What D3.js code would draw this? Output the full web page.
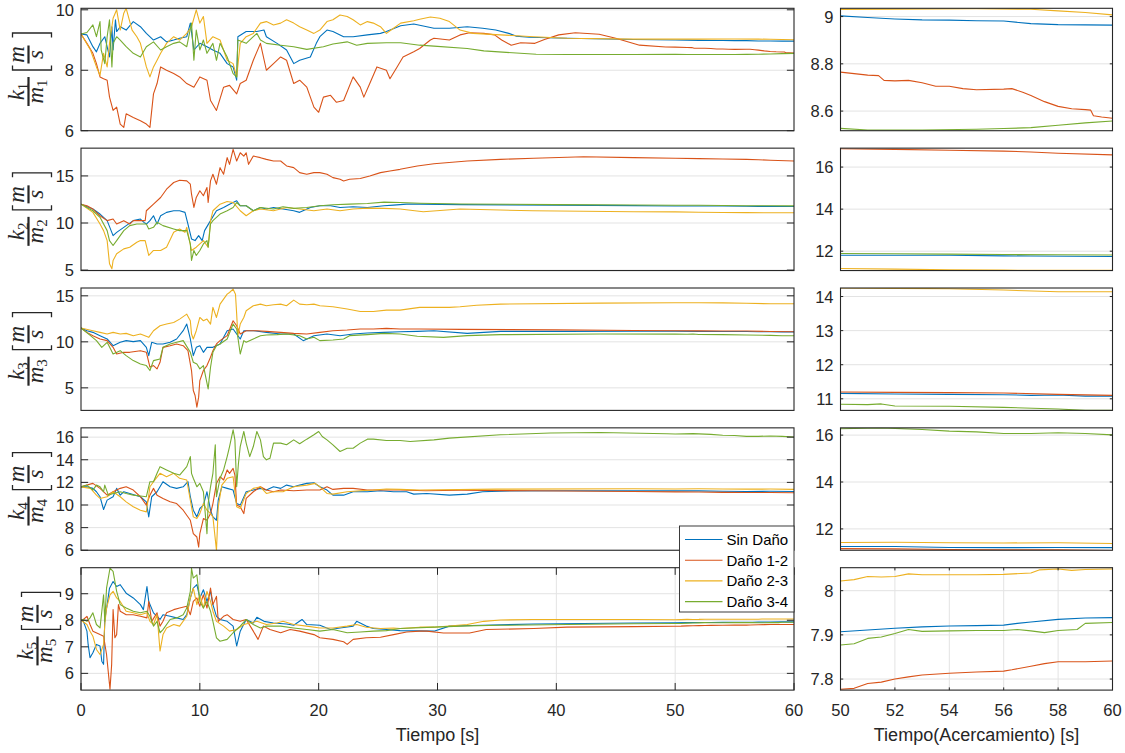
<!DOCTYPE html>
<html>
<head>
<meta charset="utf-8">
<script src="https://cdn.jsdelivr.net/npm/d3@7"></script>
<style>
  html, body { margin: 0; padding: 0; background: #fff; }
  svg { display: block; }
</style>
</head>
<body>
<script>
// ---- series metadata ----
const seriesNames = ["Sin Daño", "Daño 1-2", "Daño 2-3", "Daño 3-4"];
const seriesColors = ["#0072BD", "#D95319", "#EDB120", "#77AC30"];

// ---- k1/m1 : [time s, value] ----
const k1_sinDano = [[0,9.2],[0.5,9.17],[1.0,8.78],[1.3,8.61],[1.6,8.89],[2.0,9.11],[2.4,8.44],[2.6,9.44],[2.7,8.67],[2.9,9.67],[3.0,9.28],[3.3,9.44],[3.8,9.33],[4.4,9.61],[5.0,9.44],[5.5,9.22],[6.1,9.0],[6.7,9.11],[7.2,8.94],[7.8,9.0],[8.3,9.06],[8.9,9.11],[9.2,9.56],[9.5,8.67],[10.0,8.89],[10.6,8.78],[11.1,8.67],[11.7,8.56],[12.3,8.22],[12.8,8.11],[13.1,7.67],[13.2,9.11],[13.9,9.28],[14.8,9.28],[15.4,9.33],[15.6,9.11],[16.5,8.89],[17.3,8.67],[17.9,8.22],[18.4,8.33],[19.3,8.44],[19.8,8.89],[20.1,9.11],[20.7,9.33],[21.2,9.28],[22.1,9.11],[22.9,9.11],[24.1,9.17],[25.2,9.22],[25.7,9.28],[26.9,9.47],[28.0,9.53],[29.7,9.39],[31.0,9.39],[32.5,9.44],[33.8,9.39],[34.9,9.33],[36.0,9.22],[36.6,9.13],[37.7,9.09],[40.9,9.06],[46.5,9.02],[50,9.003],[51,8.996],[52,8.99],[53,8.986],[54,8.985],[55,8.982],[56,8.981],[57,8.97],[58,8.966],[59,8.965],[60,8.964]];
const k1_dano12 = [[0,9.2],[0.5,8.89],[1.0,8.56],[1.3,8.22],[1.6,7.78],[1.9,7.72],[2.2,7.67],[2.4,7.11],[2.7,6.67],[3.0,6.78],[3.3,6.22],[3.6,6.11],[3.8,6.56],[4.4,6.44],[5.0,6.33],[5.5,6.22],[5.8,6.11],[6.1,7.22],[6.4,7.56],[6.7,8.11],[7.2,8.0],[7.8,7.89],[8.3,7.78],[8.9,7.56],[9.5,7.44],[10.0,7.78],[10.6,7.67],[10.9,7.0],[11.4,6.67],[12.0,7.44],[12.5,7.5],[13.1,7.22],[13.4,7.56],[13.9,7.67],[14.5,8.33],[15.1,8.89],[15.6,8.0],[16.2,8.22],[16.8,8.44],[17.3,8.33],[17.9,7.56],[18.4,7.67],[19.0,7.44],[19.6,6.78],[20.0,6.61],[20.4,7.11],[21.0,7.17],[21.5,6.94],[22.1,7.0],[22.9,7.78],[23.5,7.44],[23.8,7.11],[24.3,7.56],[24.9,8.11],[25.7,8.0],[26.0,7.72],[26.6,8.11],[27.1,8.44],[28.0,8.61],[28.5,8.72],[29.4,9.0],[29.7,9.06],[31.0,9.0],[31.9,9.17],[32.7,9.24],[33.9,9.22],[34.8,9.17],[35.4,9.0],[36.2,8.83],[37.0,8.91],[38.2,8.89],[39.0,9.02],[40.2,9.17],[41.6,9.24],[43.6,9.19],[45.0,9.06],[47.0,8.83],[49.2,8.77],[50,8.765],[51,8.752],[51.4,8.75],[51.6,8.73],[52,8.728],[52.5,8.73],[53,8.72],[53.5,8.705],[54,8.705],[54.5,8.695],[55,8.69],[56,8.693],[56.3,8.695],[56.7,8.68],[57,8.666],[57.5,8.64],[58,8.62],[58.5,8.61],[59,8.606],[59.2,8.604],[59.3,8.58],[59.6,8.575],[60,8.57]];
const k1_dano23 = [[0,9.2],[0.8,8.67],[1.3,8.11],[1.6,7.83],[1.9,8.56],[2.2,8.11],[2.4,8.89],[2.7,9.72],[3.0,10.0],[3.3,9.33],[3.6,9.89],[3.8,10.05],[4.3,9.33],[4.7,9.11],[5.0,8.89],[5.5,8.11],[5.8,7.78],[6.1,8.11],[6.4,8.33],[6.7,8.56],[7.2,8.89],[7.8,9.11],[8.3,9.0],[8.9,9.22],[9.3,9.44],[9.7,10.0],[10.0,9.56],[10.3,9.78],[10.6,8.89],[11.1,9.11],[11.7,9.0],[12.3,8.33],[12.8,8.22],[13.1,7.78],[13.4,8.89],[13.9,9.11],[14.5,9.22],[15.1,9.56],[15.6,9.61],[16.2,9.5],[16.8,9.56],[17.3,9.67],[17.9,9.56],[18.4,9.44],[19.0,9.33],[19.6,9.22],[20.1,9.33],[20.7,9.61],[21.2,9.67],[21.8,9.83],[22.4,9.78],[22.9,9.67],[23.5,9.5],[24.1,9.61],[24.6,9.56],[25.2,9.44],[25.7,9.22],[26.3,9.39],[26.9,9.56],[28.0,9.64],[28.5,9.69],[29.4,9.76],[30.2,9.72],[31.0,9.61],[31.9,9.33],[33.0,9.22],[35.3,9.17],[38.1,9.11],[40.9,9.06],[46.5,9.03],[50,9.03],[52,9.031],[55,9.033],[57,9.031],[58,9.024],[59,9.017],[60,9.007]];
const k1_dano34 = [[0,9.2],[0.5,9.25],[1.0,9.5],[1.3,9.11],[1.6,9.61],[1.7,8.67],[2.0,8.22],[2.2,9.11],[2.4,9.67],[2.6,8.11],[2.7,8.89],[3.0,9.11],[3.3,9.0],[3.8,8.78],[4.4,8.56],[5.0,8.44],[5.5,8.78],[6.1,8.94],[6.7,8.67],[7.2,8.78],[7.8,8.89],[8.3,8.94],[8.9,8.78],[9.3,9.56],[9.5,8.33],[9.7,9.33],[10.0,8.67],[10.3,9.0],[10.6,8.56],[11.1,8.89],[11.4,8.33],[11.7,8.89],[12.3,8.44],[12.8,7.89],[13.1,7.78],[13.2,9.0],[13.9,8.89],[14.5,9.11],[14.8,9.22],[15.1,9.0],[15.6,8.89],[16.8,8.83],[17.9,8.78],[19.0,8.69],[20.4,8.78],[21.2,8.87],[22.4,8.94],[23.2,8.83],[24.1,8.89],[25.7,8.91],[26.9,8.91],[28.5,8.83],[29.7,8.8],[32.5,8.72],[33.9,8.64],[36.3,8.58],[38.3,8.53],[40.9,8.52],[46.5,8.52],[50,8.527],[51,8.52],[53,8.52],[55,8.523],[56,8.526],[57,8.53],[58,8.54],[59,8.55],[60,8.558]];

// ---- k2/m2 ----
const k2_sinDano = [[0,12.0],[1.0,11.48],[1.6,10.95],[2.2,10.25],[2.7,8.66],[3.0,9.0],[3.6,9.54],[4.4,10.25],[5.0,10.42],[5.3,10.07],[5.5,9.89],[5.8,10.25],[6.1,10.77],[6.4,9.89],[6.7,10.77],[7.2,11.13],[7.8,11.3],[8.3,11.3],[8.75,11.13],[9.0,9.89],[9.3,8.31],[9.6,8.13],[9.9,8.66],[10.2,8.13],[10.4,9.19],[10.9,10.25],[11.4,11.3],[12.0,11.65],[12.5,12.0],[13.1,12.36],[13.4,11.83],[13.9,11.83],[14.5,11.3],[15.1,11.65],[15.6,11.48],[16.2,11.65],[17.0,11.48],[17.9,11.3],[18.4,11.13],[19.3,11.65],[20.1,11.83],[21.0,11.83],[21.8,11.65],[22.9,11.72],[24.1,11.65],[25.5,11.83],[26.3,11.9],[27.4,12.0],[28.5,12.0],[32,11.95],[40,11.9],[46.5,11.85],[50,11.81],[54,11.81],[56,11.78],[57,11.77],[60,11.75]];
const k2_dano12 = [[0,12.0],[0.5,11.83],[1.0,11.48],[1.6,10.77],[2.2,10.25],[2.7,10.42],[3.0,9.89],[3.6,10.25],[4.1,9.89],[4.4,10.25],[5.0,10.25],[5.4,10.25],[5.5,11.3],[6.1,12.0],[6.7,12.71],[7.2,13.59],[7.8,14.3],[8.3,14.54],[8.9,14.47],[9.2,14.12],[9.3,13.06],[9.5,11.65],[9.7,12.71],[10.0,13.42],[10.3,12.89],[10.6,13.77],[10.7,12.18],[10.9,14.47],[11.1,15.18],[11.4,14.12],[11.7,15.88],[12.0,15.18],[12.3,16.94],[12.5,16.23],[12.8,17.82],[13.1,16.58],[13.4,17.46],[13.7,17.11],[13.9,17.46],[14.1,16.23],[14.5,17.11],[15.1,16.94],[15.6,16.76],[16.2,16.58],[16.8,16.58],[17.3,16.06],[17.9,15.88],[18.4,15.35],[19.0,15.18],[19.6,15.35],[20.1,15.35],[20.7,15.18],[21.2,14.82],[21.8,14.65],[22.1,14.47],[22.6,14.65],[23.5,14.72],[24.3,15.0],[25.2,15.35],[26.0,15.53],[26.85,15.7],[28.3,16.06],[29.7,16.3],[32.5,16.58],[35.3,16.76],[38.1,16.87],[42.3,17.04],[46.5,16.94],[50,16.87],[52,16.84],[54,16.8],[56,16.76],[57,16.72],[58,16.66],[60,16.58]];
const k2_dano23 = [[0,12.0],[1.0,11.13],[1.6,9.89],[1.9,9.19],[2.2,8.13],[2.4,5.67],[2.6,5.14],[2.7,6.02],[3.0,6.73],[3.6,7.25],[4.1,7.43],[4.7,7.96],[5.0,8.13],[5.4,8.13],[5.7,6.55],[6.1,7.08],[6.7,7.08],[7.2,7.43],[7.8,9.01],[8.3,9.37],[8.75,9.01],[8.9,9.54],[9.3,7.08],[9.7,7.43],[10.3,8.13],[10.7,7.43],[10.9,10.25],[11.1,11.3],[11.7,12.0],[12.3,12.29],[12.8,12.18],[13.4,11.3],[13.9,10.77],[14.5,11.3],[15.1,11.48],[16.2,11.3],[17.3,11.65],[18.4,11.48],[19.6,11.3],[20.7,11.48],[21.8,11.3],[22.9,11.48],[24.1,11.58],[25.5,11.55],[26.85,11.48],[28.8,11.2],[31.9,11.48],[38,11.3],[46.5,11.2],[50,11.18],[52,11.15],[54,11.12],[56,11.1],[58,11.09],[60,11.09]];
const k2_dano34 = [[0,12.0],[1.0,11.3],[1.6,10.6],[2.2,9.19],[2.4,8.13],[2.7,7.61],[3.0,8.13],[3.6,9.19],[4.1,9.72],[4.7,9.89],[5.5,9.89],[5.7,9.37],[6.1,9.54],[6.4,10.07],[6.9,9.72],[7.8,9.37],[8.3,9.19],[8.9,9.19],[9.2,7.78],[9.3,6.02],[9.5,7.08],[9.7,6.55],[10.0,7.08],[10.3,7.78],[10.6,8.13],[10.7,7.43],[10.9,9.89],[11.1,10.25],[11.7,10.95],[12.3,11.3],[12.8,11.65],[13.1,12.18],[13.4,11.83],[13.9,11.83],[14.5,11.3],[15.1,11.65],[16.2,11.48],[17.0,11.72],[17.9,11.55],[19.0,11.65],[20.1,11.83],[21.2,11.94],[22.6,12.0],[24.1,12.07],[25.5,12.22],[26.85,12.18],[28.5,12.1],[32,12.02],[40,11.95],[46.5,11.92],[50,11.89],[52,11.88],[54,11.86],[56,11.84],[58,11.83],[60,11.82]];

// ---- k3/m3 ----
const k3_sinDano = [[0,11.5],[0.5,11.21],[1.0,11.03],[1.6,10.67],[2.2,10.31],[2.7,9.58],[3.3,9.95],[3.8,10.13],[4.4,10.02],[5.0,10.13],[5.5,9.4],[5.7,8.5],[5.95,9.95],[6.4,9.77],[6.9,9.77],[7.5,9.95],[8.05,10.31],[8.6,11.21],[8.9,11.93],[9.2,10.31],[9.45,8.5],[9.7,9.4],[10.0,9.58],[10.3,8.86],[10.6,9.4],[11.1,9.4],[11.7,9.77],[12.3,11.21],[12.8,11.39],[13.1,10.85],[13.4,10.31],[13.7,11.21],[14.5,11.21],[15.6,11.03],[16.8,10.85],[17.9,10.85],[18.7,10.13],[19.6,10.67],[20.7,10.85],[21.8,10.67],[22.9,10.85],[24.1,10.96],[25.5,11.03],[26.85,11.1],[28.3,11.14],[29.7,11.21],[32.5,10.92],[35.3,11.14],[40.9,11.14],[46.5,11.15],[50,11.16],[52,11.14],[54,11.13],[56,11.12],[57,11.1],[58,11.11],[59,11.08],[60,11.08]];
const k3_dano12 = [[0,11.5],[0.5,11.03],[1.0,10.67],[1.6,10.31],[2.2,10.13],[2.7,9.4],[3.0,8.68],[3.6,8.86],[4.1,8.86],[5.0,9.04],[5.5,8.86],[5.8,7.24],[6.1,7.42],[6.4,7.06],[6.65,7.78],[6.9,9.4],[7.5,9.58],[8.05,9.77],[8.6,9.58],[9.0,9.04],[9.3,6.88],[9.45,4.71],[9.6,4.17],[9.75,2.91],[9.9,3.99],[10.0,5.79],[10.3,6.88],[10.6,7.42],[10.9,8.32],[11.1,9.04],[11.4,9.77],[11.7,10.13],[12.3,10.67],[12.8,12.29],[13.1,11.75],[13.4,10.85],[13.9,11.21],[14.8,11.21],[15.6,11.14],[16.8,11.03],[17.9,10.92],[19.0,10.85],[20.1,11.03],[21.2,11.21],[22.4,11.28],[23.5,11.39],[24.6,11.39],[25.7,11.46],[26.85,11.39],[28.5,11.39],[32,11.35],[40,11.3],[46.5,11.24],[50,11.2],[52,11.19],[54,11.18],[56,11.17],[58,11.13],[60,11.1]];
const k3_dano23 = [[0,11.5],[1.0,11.21],[1.6,11.03],[2.2,10.85],[2.7,11.03],[3.3,10.85],[3.8,10.92],[4.4,10.67],[5.0,10.85],[5.7,10.49],[6.1,11.21],[6.65,11.75],[7.2,11.93],[7.8,12.11],[8.3,12.47],[8.9,13.01],[9.2,12.29],[9.3,10.85],[9.45,10.31],[9.7,11.21],[10.0,12.65],[10.3,12.29],[10.6,12.47],[10.9,11.93],[11.1,13.74],[11.4,12.65],[11.7,14.1],[12.0,14.64],[12.3,15.18],[12.5,15.36],[12.8,15.72],[13.0,15.18],[13.1,13.01],[13.2,10.67],[13.4,11.93],[13.7,12.65],[13.9,13.38],[14.5,13.92],[15.1,14.1],[15.6,13.92],[16.2,14.03],[16.8,14.1],[17.3,13.92],[17.9,14.53],[18.4,14.1],[19.0,14.03],[19.6,14.1],[20.1,13.92],[21.2,13.81],[22.4,13.56],[23.5,13.3],[24.6,13.3],[25.7,13.45],[26.85,13.45],[28.5,13.74],[31,13.74],[31.9,13.81],[33.3,13.97],[35.3,14.1],[43.7,14.21],[50,14.25],[52,14.24],[54,14.23],[56,14.19],[58,14.14],[60,14.14]];
const k3_dano34 = [[0,11.5],[0.8,10.67],[1.3,10.13],[1.75,9.4],[2.2,9.95],[2.7,8.68],[3.3,9.04],[3.8,8.5],[4.4,7.96],[5.0,7.6],[5.5,7.42],[5.8,6.88],[6.1,7.96],[6.65,8.14],[6.9,9.4],[7.5,9.77],[8.05,9.95],[8.6,10.13],[9.2,8.86],[9.45,7.78],[9.75,7.6],[10.0,7.06],[10.3,7.42],[10.7,4.89],[10.9,7.24],[11.1,8.86],[11.4,9.58],[11.7,9.77],[12.3,10.31],[12.8,11.93],[13.1,11.39],[13.4,8.68],[13.7,10.13],[13.9,9.95],[14.5,10.31],[15.1,10.67],[15.6,10.74],[16.5,10.78],[17.3,10.85],[18.4,10.67],[19.0,10.31],[19.6,10.49],[20.1,10.13],[21.2,10.2],[22.1,10.31],[22.6,10.67],[24.1,10.78],[25.5,10.92],[26.85,10.85],[28.3,10.6],[30.5,10.49],[32.5,10.67],[35.3,10.78],[43.7,10.85],[50,10.84],[51,10.83],[51.5,10.85],[52,10.79],[54,10.78],[56,10.75],[58,10.7],[59,10.66],[60,10.66]];

// ---- k4/m4 ----
const k4_sinDano = [[0,11.6],[0.5,11.61],[1.0,11.47],[1.3,11.17],[1.6,10.73],[1.9,9.6],[2.2,10.43],[2.7,10.73],[3.0,11.47],[3.3,10.87],[3.6,11.17],[4.1,11.02],[5.0,10.73],[5.5,10.28],[5.7,8.95],[5.95,10.73],[6.4,11.17],[6.9,12.06],[7.5,11.61],[8.05,11.47],[8.6,11.61],[9.0,12.06],[9.2,10.73],[9.45,9.54],[9.75,8.95],[10.0,9.69],[10.3,9.99],[10.6,11.17],[10.9,9.54],[11.1,8.95],[11.4,8.65],[11.55,10.43],[11.85,11.61],[12.3,11.47],[12.8,11.32],[13.1,10.13],[13.4,9.99],[13.9,11.17],[14.5,11.32],[15.1,11.47],[15.6,11.32],[16.2,11.61],[16.8,11.47],[17.3,11.76],[17.9,11.61],[18.4,11.76],[19.0,11.91],[19.6,11.97],[20.1,11.61],[20.7,11.32],[21.2,10.87],[22.1,10.87],[22.9,11.17],[24.1,11.17],[25.2,11.26],[26.3,11.17],[27.4,11.17],[28.0,10.96],[29.1,11.02],[31,10.87],[32.5,10.96],[33.8,11.17],[35.3,11.23],[40.9,11.26],[46.5,11.25],[50,11.25],[52,11.25],[54,11.21],[56,11.2],[58,11.21],[60,11.2]];
const k4_dano12 = [[0,11.6],[0.5,11.76],[1.0,11.91],[1.6,11.47],[2.2,10.87],[2.7,11.17],[3.3,11.47],[3.8,11.61],[4.4,11.32],[5.0,10.73],[5.5,9.99],[5.8,10.87],[6.1,11.47],[6.4,10.87],[6.9,10.58],[7.5,10.28],[8.05,10.13],[8.6,9.54],[9.2,8.65],[9.45,7.47],[9.75,7.17],[9.9,6.28],[10.0,7.47],[10.3,8.8],[10.6,8.65],[10.9,9.24],[11.1,10.13],[11.4,11.91],[11.7,12.5],[12.0,12.21],[12.3,13.1],[12.5,12.8],[12.8,13.24],[12.95,12.65],[13.1,9.99],[13.4,9.84],[13.7,9.24],[13.9,10.58],[14.5,11.17],[15.1,11.61],[15.6,11.32],[16.2,11.17],[16.8,11.32],[17.9,11.26],[19.0,11.32],[20.1,11.32],[20.7,11.61],[21.2,11.38],[22.1,11.47],[22.9,11.47],[24.1,11.32],[25.2,11.32],[26.85,11.32],[29,11.26],[32,11.3],[38,11.26],[46.5,11.2],[50,11.16],[52,11.15],[54,11.12],[56,11.11],[58,11.11],[60,11.08]];
const k4_dano23 = [[0,11.6],[0.8,11.47],[1.3,10.87],[1.6,10.58],[2.2,10.73],[2.7,11.17],[3.3,10.73],[3.8,10.28],[4.4,9.84],[5.0,9.54],[5.5,9.39],[5.8,11.61],[6.1,12.06],[6.65,12.8],[7.2,12.5],[7.8,12.8],[8.3,12.36],[8.9,12.21],[9.2,10.43],[9.45,8.95],[9.75,8.8],[10.0,9.24],[10.3,10.13],[10.6,9.54],[10.9,9.24],[11.1,8.95],[11.4,5.99],[11.55,9.84],[11.85,11.76],[12.3,12.36],[12.8,12.5],[13.1,9.84],[13.4,9.69],[13.9,11.02],[14.5,11.47],[15.1,11.61],[15.6,11.02],[16.2,11.17],[17.0,11.17],[17.9,11.61],[19.0,11.76],[19.7,11.91],[20.1,11.61],[20.7,11.02],[21.2,10.96],[22.4,11.17],[23.5,11.26],[24.6,11.32],[25.7,11.41],[26.85,11.38],[28.5,11.32],[35,11.4],[46.5,11.43],[50,11.42],[52,11.43],[54,11.41],[56,11.4],[58,11.41],[60,11.38]];
const k4_dano34 = [[0,11.6],[0.5,11.76],[1.0,11.32],[1.3,11.76],[1.6,11.61],[1.9,11.17],[2.0,11.76],[2.3,10.87],[2.7,11.02],[3.3,11.17],[3.8,11.02],[4.4,10.87],[5.0,10.79],[5.5,10.73],[5.8,12.06],[6.1,12.06],[6.4,12.8],[6.65,13.39],[7.2,13.1],[7.8,12.8],[8.3,12.65],[8.9,13.39],[9.2,14.28],[9.3,12.8],[9.45,12.36],[9.75,11.61],[10.0,11.91],[10.3,11.17],[10.6,7.47],[10.7,10.13],[10.9,11.61],[11.1,12.8],[11.3,15.32],[11.4,10.73],[11.7,12.36],[12.0,13.1],[12.3,14.28],[12.5,15.17],[12.8,16.65],[12.95,15.76],[13.1,11.61],[13.25,13.69],[13.4,15.17],[13.7,16.5],[13.9,15.47],[14.2,14.28],[14.5,15.17],[14.8,16.5],[15.1,15.76],[15.35,14.28],[15.6,13.99],[15.9,14.13],[16.2,15.47],[16.8,15.47],[17.3,15.32],[17.9,15.76],[18.4,15.41],[19.0,15.82],[19.6,16.21],[20.0,16.5],[20.3,16.06],[20.7,15.76],[21.2,15.32],[21.8,14.73],[22.4,15.02],[22.9,15.02],[23.5,15.47],[24.1,15.82],[24.6,15.82],[25.7,15.7],[26.85,15.7],[27.7,15.61],[29.7,15.76],[31,15.91],[35.3,16.21],[39.5,16.36],[43.7,16.41],[49.3,16.3],[50,16.27],[51.5,16.31],[53,16.24],[54,16.17],[55,16.14],[56,16.07],[57,16.07],[58,16.1],[59,16.07],[60,16.01]];

// ---- k5/m5 ----
const k5_sinDano = [[0,8.0],[0.2,7.96],[0.5,7.59],[0.6,7.09],[0.76,6.59],[1.0,6.78],[1.3,7.09],[1.6,7.03],[1.75,6.46],[1.9,6.34],[2.0,8.0],[2.2,8.59],[2.4,9.21],[2.7,9.46],[3.0,9.27],[3.3,9.34],[3.8,9.02],[4.4,8.84],[5.0,8.59],[5.25,8.4],[5.55,9.27],[5.7,8.71],[6.1,8.28],[6.65,8.03],[6.9,8.21],[7.5,8.15],[8.05,8.09],[8.6,8.03],[8.9,8.21],[9.2,8.84],[9.45,9.21],[9.75,9.34],[10.0,8.84],[10.3,9.15],[10.6,8.71],[10.9,9.09],[11.1,8.59],[11.4,8.15],[11.7,8.03],[12.3,7.96],[12.8,7.78],[13.1,7.03],[13.4,7.59],[13.9,8.03],[14.5,7.9],[14.8,8.11],[15.4,7.96],[16.2,7.9],[17.3,7.86],[17.9,7.81],[18.6,8.03],[19.0,7.84],[20.1,7.81],[21.0,7.65],[21.8,7.71],[22.9,7.78],[23.2,7.96],[24.0,7.78],[24.6,7.69],[25.7,7.65],[26.85,7.61],[29.7,7.59],[31,7.78],[33.8,7.81],[38.1,7.86],[46.5,7.9],[50,7.907],[51,7.911],[52,7.915],[53,7.918],[54,7.92],[55,7.921],[56,7.922],[56.5,7.926],[57,7.929],[58,7.935],[59,7.938],[60,7.939]];
const k5_dano12 = [[0,8.0],[0.2,8.03],[0.5,8.15],[0.76,7.84],[1.0,7.59],[1.6,7.46],[1.9,7.4],[2.15,6.71],[2.3,6.03],[2.44,5.4],[2.58,6.34],[2.7,8.4],[2.85,7.34],[3.0,7.46],[3.15,8.59],[3.3,8.34],[3.8,8.21],[4.4,8.21],[5.0,8.15],[5.55,8.09],[5.7,8.71],[5.95,7.96],[6.4,8.28],[6.65,7.78],[6.9,7.96],[7.2,8.28],[7.8,8.4],[8.3,8.46],[8.9,8.53],[9.2,8.21],[9.45,8.71],[9.75,8.84],[10.0,8.53],[10.3,8.96],[10.6,8.46],[10.9,9.21],[11.1,8.59],[11.4,8.9],[11.55,7.96],[12.0,8.15],[12.3,8.21],[12.8,8.03],[13.4,7.96],[13.9,8.03],[14.5,7.59],[14.9,7.28],[15.35,7.78],[15.9,7.65],[16.8,7.53],[17.6,7.65],[18.4,7.59],[19.6,7.46],[20.1,7.34],[21.2,7.28],[22.1,7.19],[22.4,7.09],[22.9,7.28],[24.0,7.34],[25.2,7.36],[26.3,7.46],[27.4,7.56],[28.5,7.59],[29.1,7.59],[30.5,7.52],[32.7,7.52],[34.1,7.65],[38.1,7.69],[40.9,7.74],[46.5,7.76],[50,7.777],[50.5,7.779],[51,7.79],[51.5,7.793],[52,7.8],[52.5,7.805],[53,7.809],[54,7.813],[55,7.816],[56,7.818],[56.3,7.821],[57,7.829],[57.5,7.835],[58,7.839],[59,7.839],[60,7.841]];
const k5_dano23 = [[0,8.0],[0.5,7.84],[0.76,7.59],[1.0,7.4],[1.3,6.9],[1.6,6.71],[1.9,7.09],[2.0,7.84],[2.15,8.46],[2.44,8.96],[2.7,9.09],[3.0,8.84],[3.3,8.71],[3.8,8.34],[4.4,8.28],[5.0,8.21],[5.55,8.28],[5.8,7.96],[6.1,7.84],[6.4,8.21],[6.65,6.84],[6.9,7.46],[7.2,7.71],[7.8,7.84],[8.3,7.78],[8.9,8.15],[9.2,8.84],[9.45,9.21],[9.75,8.59],[10.0,8.96],[10.3,8.46],[10.6,9.09],[10.9,8.71],[11.1,8.34],[11.4,7.96],[12.0,7.78],[12.5,7.59],[13.1,7.65],[13.7,7.84],[14.2,7.9],[14.8,7.96],[15.6,7.84],[16.5,7.9],[17.0,7.96],[17.9,7.84],[19.0,7.78],[20.1,7.71],[21.2,7.71],[22.4,7.78],[23.2,7.84],[24.0,7.74],[25.2,7.69],[26.3,7.71],[26.85,7.69],[28.5,7.74],[29.7,7.74],[32.5,7.84],[33.9,7.96],[35.3,8.01],[38,8.03],[46.5,8.03],[50,8.022],[50.5,8.025],[51,8.032],[51.5,8.031],[52,8.032],[52.5,8.038],[53,8.036],[54,8.036],[55,8.036],[56,8.037],[57,8.04],[57.3,8.047],[58,8.049],[58.5,8.046],[59,8.048],[60,8.049]];
const k5_dano34 = [[0,8.0],[0.2,8.03],[0.5,7.96],[0.76,8.09],[1.0,8.28],[1.3,7.84],[1.6,7.71],[1.9,8.96],[2.0,7.96],[2.15,9.21],[2.44,9.96],[2.7,9.84],[3.0,9.09],[3.3,8.59],[3.8,8.46],[4.4,8.34],[5.0,8.28],[5.55,8.34],[5.8,8.15],[6.1,7.78],[6.4,7.96],[6.65,7.53],[6.9,7.65],[7.5,8.03],[8.05,8.09],[8.6,8.21],[8.9,8.46],[9.2,9.09],[9.3,9.96],[9.45,9.59],[9.75,9.71],[10.0,8.71],[10.3,8.46],[10.6,8.71],[10.9,8.34],[11.1,7.96],[11.4,7.34],[11.7,7.21],[12.3,7.28],[12.8,7.53],[13.4,7.78],[13.9,8.03],[14.5,7.84],[15.1,7.71],[15.6,7.78],[16.8,7.78],[17.9,7.71],[19.0,7.65],[20.1,7.59],[21.2,7.65],[22.4,7.53],[23.5,7.56],[24.6,7.59],[25.7,7.61],[26.85,7.69],[29.7,7.74],[32.5,7.79],[35.3,7.81],[40.9,7.84],[46.5,7.87],[50,7.877],[50.5,7.88],[51,7.892],[51.5,7.895],[52,7.903],[52.5,7.912],[53,7.908],[54,7.909],[55,7.91],[56,7.91],[56.5,7.912],[57,7.909],[57.5,7.905],[58,7.91],[58.7,7.912],[59,7.926],[60,7.928]];

// ---- axis limits and ticks ----
const fullTimeTicks = [0, 10, 20, 30, 40, 50, 60];
const zoomTimeTicks = [50, 52, 54, 56, 58, 60];
const rows = [
  { sub: "1", series: [k1_sinDano, k1_dano12, k1_dano23, k1_dano34],
    yFull: [6, 10.05], ticksFull: [6, 8, 10], yZoom: [8.517, 9.035], ticksZoom: [8.6, 8.8, 9] },
  { sub: "2", series: [k2_sinDano, k2_dano12, k2_dano23, k2_dano34],
    yFull: [4.95, 17.95], ticksFull: [5, 10, 15], yZoom: [11.08, 16.9], ticksZoom: [12, 14, 16] },
  { sub: "3", series: [k3_sinDano, k3_dano12, k3_dano23, k3_dano34],
    yFull: [2.55, 15.85], ticksFull: [5, 10, 15], yZoom: [10.66, 14.25], ticksZoom: [11, 12, 13, 14] },
  { sub: "4", series: [k4_sinDano, k4_dano12, k4_dano23, k4_dano34],
    yFull: [6, 16.82], ticksFull: [6, 8, 10, 12, 14, 16], yZoom: [11.09, 16.31], ticksZoom: [12, 14, 16] },
  { sub: "5", series: [k5_sinDano, k5_dano12, k5_dano23, k5_dano34],
    yFull: [5.37, 9.98], ticksFull: [6, 7, 8, 9], yZoom: [7.775, 8.052], ticksZoom: [7.8, 7.9, 8] }
];

// ---- layout ----
const W = 1125, H = 753;
const FONT = "'Liberation Sans', Arial, Helvetica, sans-serif";
const MATH = "'Liberation Serif', 'DejaVu Serif', 'Times New Roman', serif";
const INK = "#262626";
const GRID = "#e3e3e3";
const leftRange = [81, 794];
const rightRange = [840.5, 1112.5];
const rowTop0 = 8.3, rowStep = 139.85, rowH = 122.4;

const svg = d3.select("body").append("svg")
  .attr("width", W).attr("height", H)
  .attr("viewBox", `0 0 ${W} ${H}`);
const defs = svg.append("defs");

const xFull = d3.scaleLinear().domain([0, 60]).range(leftRange);
const xZoom = d3.scaleLinear().domain([50, 60]).range(rightRange);

let clipId = 0;
function drawPanel(x, yDomain, yTicks, top, isBottom, xTicks, series) {
  const [x0, x1] = x.range();
  const y = d3.scaleLinear().domain(yDomain).range([top + rowH, top]);
  const tickLen = (x1 - x0) * 0.01;
  const g = svg.append("g");

  // horizontal grid
  g.append("g").selectAll("line").data(yTicks).join("line")
    .attr("x1", x0).attr("x2", x1)
    .attr("y1", d => y(d)).attr("y2", d => y(d))
    .attr("stroke", GRID).attr("stroke-width", 1);
  // vertical grid only on the bottom row
  if (isBottom) {
    g.append("g").selectAll("line").data(xTicks).join("line")
      .attr("x1", d => x(d)).attr("x2", d => x(d))
      .attr("y1", top).attr("y2", top + rowH)
      .attr("stroke", GRID).attr("stroke-width", 1);
  }

  // data lines, clipped to the axes box
  const id = "clip" + (clipId++);
  defs.append("clipPath").attr("id", id).append("rect")
    .attr("x", x0).attr("y", top).attr("width", x1 - x0).attr("height", rowH);
  const line = d3.line().x(d => x(d[0])).y(d => y(d[1]));
  const xd = x.domain();
  g.append("g").attr("clip-path", `url(#${id})`)
    .selectAll("path").data(series).join("path")
    .attr("d", s => {
      const pts = s.filter((p, i) =>
        (p[0] >= xd[0] && p[0] <= xd[1]) ||
        (s[i + 1] && s[i + 1][0] > xd[0] && p[0] < xd[0]));
      return line(pts);
    })
    .attr("fill", "none")
    .attr("stroke", (s, i) => seriesColors[i])
    .attr("stroke-width", 1.1)
    .attr("stroke-linejoin", "round");

  // y ticks on both sides (inward), y tick labels on the left
  const yt = g.append("g");
  yTicks.forEach(v => {
    const yy = y(v);
    yt.append("line").attr("x1", x0).attr("x2", x0 + tickLen).attr("y1", yy).attr("y2", yy)
      .attr("stroke", INK).attr("stroke-width", 1);
    yt.append("line").attr("x1", x1).attr("x2", x1 - tickLen).attr("y1", yy).attr("y2", yy)
      .attr("stroke", INK).attr("stroke-width", 1);
    yt.append("text").attr("x", x0 - 7).attr("y", yy)
      .attr("text-anchor", "end").attr("dominant-baseline", "central")
      .attr("font-family", FONT).attr("font-size", 16.5).attr("fill", INK)
      .text(String(v));
  });

  // x ticks + labels only on the bottom row
  if (isBottom) {
    xTicks.forEach(v => {
      const xx = x(v);
      yt.append("line").attr("x1", xx).attr("x2", xx).attr("y1", top + rowH).attr("y2", top + rowH - tickLen)
        .attr("stroke", INK).attr("stroke-width", 1);
      yt.append("line").attr("x1", xx).attr("x2", xx).attr("y1", top).attr("y2", top + tickLen)
        .attr("stroke", INK).attr("stroke-width", 1);
      yt.append("text").attr("x", xx).attr("y", top + rowH + 20)
        .attr("text-anchor", "middle").attr("dominant-baseline", "central")
        .attr("font-family", FONT).attr("font-size", 16.5).attr("fill", INK)
        .text(String(v));
    });
  }

  // axes box
  g.append("rect").attr("x", x0).attr("y", top).attr("width", x1 - x0).attr("height", rowH)
    .attr("fill", "none").attr("stroke", INK).attr("stroke-width", 1.1);
}

// y label: k_i / m_i [ m / s ], typeset sideways
function yLabel(cx, cy, sub) {
  const g = svg.append("g").attr("transform", `translate(${cx},${cy}) rotate(-90)`)
    .attr("fill", INK);
  const big = 23, small = 15;
  function frac(xc, num, den, numSub, denSub, barW) {
    const n = g.append("text").attr("x", xc).attr("y", -5).attr("text-anchor", "middle")
      .attr("font-family", MATH).attr("font-size", big).attr("font-style", "italic");
    n.append("tspan").text(num);
    if (numSub) n.append("tspan").attr("dy", 4).attr("font-size", small).attr("font-style", "normal").text(numSub);
    const d = g.append("text").attr("x", xc).attr("y", 14.5).attr("text-anchor", "middle")
      .attr("font-family", MATH).attr("font-size", big).attr("font-style", "italic");
    d.append("tspan").text(den);
    if (denSub) d.append("tspan").attr("dy", 4).attr("font-size", small).attr("font-style", "normal").text(denSub);
    g.append("line").attr("x1", xc - barW / 2).attr("x2", xc + barW / 2).attr("y1", 0).attr("y2", 0)
      .attr("stroke", INK).attr("stroke-width", 2.2);
  }
  frac(-22, "k", "m", sub, sub, 29);
  frac(15, "m", "s", null, null, 18);
  g.append("path").attr("d", "M4,-16 H-0.5 V23 H4")
    .attr("fill", "none").attr("stroke", INK).attr("stroke-width", 1.3);
  g.append("path").attr("d", "M32,-16 H36.5 V23 H32")
    .attr("fill", "none").attr("stroke", INK).attr("stroke-width", 1.3);
}

rows.forEach((r, i) => {
  const top = rowTop0 + i * rowStep;
  const isBottom = i === rows.length - 1;
  drawPanel(xFull, r.yFull, r.ticksFull, top, isBottom, fullTimeTicks, r.series);
  drawPanel(xZoom, r.yZoom, r.ticksZoom, top, isBottom, zoomTimeTicks, r.series);
  yLabel(isBottom ? 37.5 : 28.5, top + rowH / 2, r.sub);
});

// x axis titles
const bottomY = rowTop0 + 4 * rowStep + rowH;
svg.append("text").attr("x", (leftRange[0] + leftRange[1]) / 2).attr("y", bottomY + 45)
  .attr("text-anchor", "middle").attr("dominant-baseline", "central")
  .attr("font-family", FONT).attr("font-size", 18).attr("fill", INK).text("Tiempo [s]");
svg.append("text").attr("x", (rightRange[0] + rightRange[1]) / 2).attr("y", bottomY + 45)
  .attr("text-anchor", "middle").attr("dominant-baseline", "central")
  .attr("font-family", FONT).attr("font-size", 18).attr("fill", INK).text("Tiempo(Acercamiento) [s]");

// legend
const lg = svg.append("g");
const lgX = 679.5, lgY = 526, lgW = leftRange[1] - 679.5, lgH = 86;
lg.append("rect").attr("x", lgX).attr("y", lgY).attr("width", lgW).attr("height", lgH)
  .attr("fill", "#fff").attr("stroke", INK).attr("stroke-width", 0.9);
seriesNames.forEach((name, i) => {
  const yy = lgY + 13.5 + i * 20.7;
  lg.append("line").attr("x1", lgX + 5.5).attr("x2", lgX + 43).attr("y1", yy).attr("y2", yy)
    .attr("stroke", seriesColors[i]).attr("stroke-width", 1.1);
  lg.append("text").attr("x", lgX + 47).attr("y", yy)
    .attr("dominant-baseline", "central")
    .attr("font-family", FONT).attr("font-size", 15).attr("fill", "#000").text(name);
});
</script>
</body>
</html>
